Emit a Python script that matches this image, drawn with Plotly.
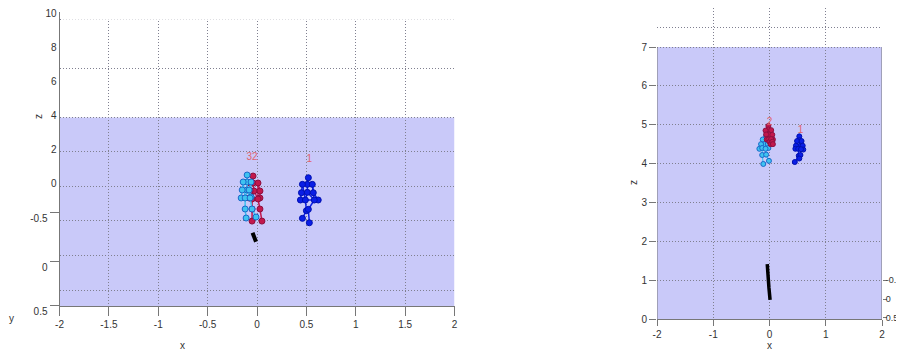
import plotly.graph_objects as go

# page body has an 8px margin; keep the figure inside the window so nothing overflows
W, H = 896, 342
OFF = 8

# ---------------- data ----------------
# joint order: head, neck, torso, l_shoulder, l_elbow, l_hand, r_shoulder, r_elbow, r_hand,
#              l_hip, l_knee, l_foot, r_hip, r_knee, r_foot
BONES = [(0, 1), (1, 3), (1, 6), (3, 4), (4, 5), (6, 7), (7, 8), (1, 2), (2, 9), (2, 12),
         (9, 12), (9, 10), (10, 11), (12, 13), (13, 14), (3, 9), (6, 12)]

# left view (x, z)
L_BLUE_X = [0.52, 0.51, 0.51, 0.46, 0.45, 0.44, 0.56, 0.57, 0.62, 0.49, 0.50, 0.46, 0.58, 0.52, 0.53]
L_BLUE_Z = [0.31, -0.08, -0.55, -0.08, -0.57, -1.00, -0.08, -0.57, -1.00, -1.00, -1.63, -2.08, -1.00, -1.55, -2.34]
L_CYAN_X = [-0.10, -0.10, -0.10, -0.14, -0.15, -0.16, -0.06, -0.08, -0.06, -0.12, -0.12, -0.11, -0.07, -0.05, -0.01]
L_CYAN_Z = [0.47, 0.06, -0.41, 0.06, -0.41, -0.88, 0.06, -0.41, -0.82, -0.88, -1.53, -2.06, -0.88, -1.53, -2.00]
L_RED_X = [-0.04, -0.04, -0.03, -0.07, -0.07, -0.08, 0.01, 0.03, 0.03, -0.05, -0.05, -0.05, 0.01, 0.03, 0.05]
L_RED_Z = [0.41, 0.00, -0.47, 0.00, -0.47, -0.88, 0.00, -0.47, -0.88, -0.94, -1.53, -2.24, -0.94, -1.53, -2.24]
L_TRAIL_X = [-0.045, -0.04, -0.03, -0.02, -0.01]
L_TRAIL_Z = [-2.93, -3.00, -3.15, -3.30, -3.45]
L_LABEL_TEXT = ["32", "1"]
L_LABEL_X = [-0.05, 0.53]
L_LABEL_Z = [1.51, 1.39]

# right view (x, z)
R_BLUE_X = [0.53, 0.53, 0.54, 0.49, 0.47, 0.46, 0.57, 0.59, 0.60, 0.51, 0.52, 0.45, 0.56, 0.55, 0.53]
R_BLUE_Z = [4.70, 4.60, 4.45, 4.58, 4.46, 4.38, 4.58, 4.46, 4.36, 4.38, 4.20, 4.04, 4.37, 4.22, 4.13]
R_CYAN_X = [-0.06, -0.07, -0.09, -0.12, -0.15, -0.18, -0.03, -0.03, -0.02, -0.13, -0.13, -0.11, -0.07, -0.06, -0.01]
R_CYAN_Z = [4.72, 4.64, 4.50, 4.62, 4.50, 4.38, 4.62, 4.50, 4.40, 4.40, 4.22, 3.99, 4.38, 4.23, 4.07]
R_RED_X = [-0.02, -0.02, 0.00, -0.07, -0.06, -0.05, 0.03, 0.05, 0.06, -0.02, 0.00, 0.02, 0.03, 0.05, 0.06]
R_RED_Z = [4.97, 4.88, 4.75, 4.85, 4.75, 4.62, 4.86, 4.74, 4.62, 4.62, 4.56, 4.50, 4.63, 4.56, 4.50]
R_TRAIL_X = [-0.04, -0.035, -0.03, -0.02, -0.01, 0.0, 0.01]
R_TRAIL_Z = [1.41, 1.25, 1.10, 0.95, 0.80, 0.65, 0.49]
R_LABEL_TEXT = ["2", "1"]
R_LABEL_X = [0.0, 0.55]
R_LABEL_Z = [5.07, 4.86]

# ticks
L_XTICKS = [-2, -1.5, -1, -0.5, 0, 0.5, 1, 1.5, 2]
L_XTICKTEXT = ["-2", "-1.5", "-1", "-0.5", "0", "0.5", "1", "1.5", "2"]
L_ZTICKS = [0, 2, 4, 6, 8, 10]
L_ZTICKTEXT = ["0", "2", "4", "6", "8", "10"]
L_YTICKS = [-1.706, -4.588, -7.2]
L_YTICKTEXT = ["-0.5", "0", "0.5"]
L_GRID_Z = [9.59, 6.765, 3.88, 1.88, -0.176, -2.176, -4.235, -6.294]

R_XTICKS = [-2, -1, 0, 1, 2]
R_XTICKTEXT = ["-2", "-1", "0", "1", "2"]
R_ZTICKS = [0, 1, 2, 3, 4, 5, 6, 7]
R_ZTICKTEXT = ["0", "1", "2", "3", "4", "5", "6", "7"]
R_YTICKS = [1.0, 0.51, 0.03]
R_YTICKTEXT = ["-0.5", "0", "0.5"]
R_GRID_Z = [1, 2, 3, 4, 5, 6, 7, 7.51, 8.04]

# ---------------- styles ----------------
FONT = dict(family="Liberation Sans, Arial, sans-serif", size=10, color="#333333")
RFONT = dict(family="Liberation Sans, Arial, sans-serif", size=9, color="#333333")
GRID = "#808090"
GDASH = "1px,2px"
AXC = "#777777"
FLOOR = "#c9c9f9"
CYAN, CYAN_EDGE = "#3ec3f0", "#1b67c9"
RED, RED_EDGE = "#c2184d", "#8e1040"
BLUE, BLUE_EDGE = "#0a1ee6", "#0010b0"
LABEL_RED = "#e0646e"


def fx(px):
    return (px - OFF) / W


def fy(py):
    return 1 - (py - OFF) / H


fig = go.Figure()


def add_skeleton(xs, zs, color, edge, xa, ya, size, lw):
    bx, bz = [], []
    for a, b in BONES:
        bx += [xs[a], xs[b], None]
        bz += [zs[a], zs[b], None]
    fig.add_trace(go.Scatter(x=bx, y=bz, mode="lines", line=dict(color=color, width=lw),
                             xaxis=xa, yaxis=ya, hoverinfo="skip"))
    fig.add_trace(go.Scatter(x=xs, y=zs, mode="markers",
                             marker=dict(size=size, color=color, line=dict(color=edge, width=1)),
                             xaxis=xa, yaxis=ya))


# register the helper tick axes (no marks)
for xa, ya in [("x", "y3"), ("x", "y5"), ("x2", "y4"), ("x2", "y6")]:
    fig.add_trace(go.Scatter(x=[], y=[], mode="markers", xaxis=xa, yaxis=ya, hoverinfo="skip"))

# left
fig.add_trace(go.Scatter(x=L_TRAIL_X, y=L_TRAIL_Z, mode="lines", line=dict(color="black", width=4),
                         xaxis="x", yaxis="y"))
add_skeleton(L_RED_X, L_RED_Z, RED, RED_EDGE, "x", "y", 6, 1.5)
add_skeleton(L_CYAN_X, L_CYAN_Z, CYAN, CYAN_EDGE, "x", "y", 6, 1.5)
add_skeleton(L_BLUE_X, L_BLUE_Z, BLUE, BLUE_EDGE, "x", "y", 6, 1.5)
fig.add_trace(go.Scatter(x=L_LABEL_X, y=L_LABEL_Z, mode="text", text=L_LABEL_TEXT,
                         textfont=dict(family=FONT["family"], size=10, color=LABEL_RED),
                         xaxis="x", yaxis="y"))

# right
fig.add_trace(go.Scatter(x=R_TRAIL_X, y=R_TRAIL_Z, mode="lines", line=dict(color="black", width=3.5),
                         xaxis="x2", yaxis="y2"))
add_skeleton(R_CYAN_X, R_CYAN_Z, CYAN, CYAN_EDGE, "x2", "y2", 5, 1.2)
add_skeleton(R_RED_X, R_RED_Z, RED, RED_EDGE, "x2", "y2", 5, 1.2)
add_skeleton(R_BLUE_X, R_BLUE_Z, BLUE, BLUE_EDGE, "x2", "y2", 5, 1.2)
fig.add_trace(go.Scatter(x=R_LABEL_X, y=R_LABEL_Z, mode="text", text=R_LABEL_TEXT,
                         textfont=dict(family=FONT["family"], size=10, color=LABEL_RED),
                         xaxis="x2", yaxis="y2"))

# ---------------- layout ----------------
xl0, xl1 = fx(59.5), fx(454.5)
LEFT_DOM = [fy(306), fy(12)]
LEFT_RANGE = [-7.235, 10.059]
xr0, xr1 = fx(657), fx(882)
RIGHT_DOM = [fy(319), min(fy(6), 1)]
RIGHT_RANGE = [0, (319 - max(6, OFF)) / 38.857]

common = dict(zeroline=False, automargin=False, fixedrange=True, tickfont=FONT,
              ticklabeloverflow="allow")

fig.update_layout(
    template="none",
    width=W, height=H,
    margin=dict(l=0, r=0, t=0, b=0),
    paper_bgcolor="white", plot_bgcolor="rgba(0,0,0,0)",
    showlegend=False, hovermode=False,
    font=FONT,
    xaxis=dict(domain=[xl0, xl1], range=[-2, 2], anchor="y", tickmode="array",
               tickvals=L_XTICKS, ticktext=L_XTICKTEXT, ticks="outside", ticklen=9,
               tickcolor=AXC, showline=True, linecolor=AXC, showgrid=True,
               gridcolor=GRID, griddash=GDASH, **common),
    # main left axis: z tick labels + solid axis line
    yaxis=dict(domain=LEFT_DOM, range=LEFT_RANGE, anchor="x", tickmode="array",
               tickvals=L_ZTICKS, ticktext=L_ZTICKTEXT, ticks="", showgrid=False,
               showline=True, linecolor=AXC, **common),
    # grid levels of the box
    yaxis3=dict(overlaying="y", anchor="x", side="left", range=LEFT_RANGE, tickmode="array",
                tickvals=L_GRID_Z, showticklabels=False, ticks="", showgrid=True,
                gridcolor=GRID, griddash=GDASH, showline=False, **common),
    # depth (y) ticks
    yaxis5=dict(overlaying="y", anchor="x", side="left", range=LEFT_RANGE, tickmode="array",
                tickvals=L_YTICKS, ticktext=L_YTICKTEXT, ticks="outside", ticklen=9,
                tickcolor=AXC, ticklabelshift=6, showgrid=False, showline=False, **common),
    xaxis2=dict(domain=[xr0, xr1], range=[-2, 2], anchor="y2", tickmode="array",
                tickvals=R_XTICKS, ticktext=R_XTICKTEXT, ticks="outside", ticklen=6,
                tickcolor=AXC, showline=True, linecolor=AXC, showgrid=True,
                gridcolor=GRID, griddash=GDASH, **common),
    yaxis2=dict(domain=RIGHT_DOM, range=RIGHT_RANGE, anchor="x2", tickmode="array",
                tickvals=R_GRID_Z, showticklabels=False, ticks="", showgrid=True,
                gridcolor=GRID, griddash=GDASH, showline=False, **common),
    yaxis4=dict(overlaying="y2", anchor="x2", side="left", range=RIGHT_RANGE, tickmode="array",
                tickvals=R_ZTICKS, ticktext=R_ZTICKTEXT, ticks="outside", ticklen=7,
                tickcolor=AXC, showgrid=False, showline=False, **common),
    yaxis6=dict(overlaying="y2", anchor="x2", side="right", range=RIGHT_RANGE, tickmode="array",
                tickvals=R_YTICKS, ticktext=R_YTICKTEXT, ticks="outside", ticklen=4,
                ticklabelstandoff=-3, tickcolor=AXC, showgrid=False, showline=False,
                zeroline=False, automargin=False, fixedrange=True, tickfont=RFONT,
                ticklabeloverflow="allow"),
)

fig.add_shape(type="rect", xref="x", yref="y", x0=-2, x1=2, y0=LEFT_RANGE[0], y1=3.85,
              fillcolor=FLOOR, line=dict(width=0), layer="below")
fig.add_shape(type="rect", xref="paper", yref="y", x0=xl0 + 1.5 / W, x1=xl1 + 2 / W,
              y0=9.60, y1=LEFT_RANGE[1] + 0.1, fillcolor="white", line=dict(width=0), layer="above")
fig.add_shape(type="rect", xref="x2", yref="y2", x0=-2, x1=2, y0=0, y1=7,
              fillcolor=FLOOR, line=dict(width=0), layer="below")
fig.add_shape(type="path", xref="x2", yref="y2", path="M -2,0 L -2,7 M 2,0 L 2,7",
              line=dict(color=AXC, width=1), layer="between")

ann = dict(showarrow=False, font=FONT, xref="paper", yref="paper", xanchor="center", yanchor="middle")
fig.add_annotation(text="z", x=fx(39), y=fy(117), textangle=-90, **ann)
fig.add_annotation(text="y", x=fx(11), y=fy(318), **ann)
fig.add_annotation(text="x", x=fx(182), y=fy(345), **ann)
fig.add_annotation(text="z", x=fx(633), y=fy(183), textangle=-90, **ann)
fig.add_annotation(text="x", x=fx(769), y=fy(345), **ann)

fig.write_html("out.html")
